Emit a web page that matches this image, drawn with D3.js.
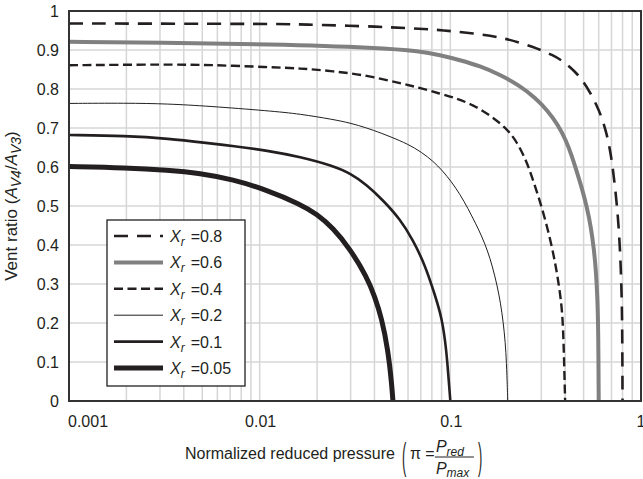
<!DOCTYPE html>
<html>
<head>
<meta charset="utf-8">
<script src="https://cdn.jsdelivr.net/npm/d3@7"></script>
<style>
body { margin: 0; background: #fff; }
text { font-family: "Liberation Sans", Arial, Helvetica, sans-serif; fill: #231f20; }
</style>
</head>
<body>
<svg id="chart" width="643" height="479"></svg>
<script>
// curves: [pi, vent ratio]
var curve08 = [[0.001,0.968],[0.011,0.967],[0.0163,0.966],[0.0428,0.96],[0.0782,0.953],[0.0882,0.951],[0.1318,0.943],[0.1973,0.93],[0.2721,0.908],[0.3464,0.887],[0.399,0.868],[0.45,0.845],[0.4958,0.821],[0.5395,0.792],[0.585,0.759],[0.6238,0.726],[0.6546,0.692],[0.6827,0.654],[0.7082,0.605],[0.7298,0.551],[0.7521,0.49],[0.7704,0.418],[0.7846,0.336],[0.7942,0.246],[0.7981,0.156],[0.8,0]];
var curve06 = [[0.001,0.921],[0.003,0.919],[0.0112,0.915],[0.0428,0.906],[0.0693,0.897],[0.0882,0.887],[0.1123,0.874],[0.1429,0.859],[0.182,0.837],[0.2317,0.808],[0.2777,0.778],[0.3249,0.744],[0.3665,0.708],[0.4039,0.669],[0.4342,0.628],[0.4611,0.587],[0.4898,0.546],[0.5203,0.497],[0.5461,0.446],[0.5662,0.39],[0.58,0.336],[0.5906,0.267],[0.5971,0.182],[0.6,0]];
var curve04 = [[0.001,0.861],[0.0033,0.863],[0.0054,0.862],[0.0112,0.856],[0.0163,0.853],[0.0242,0.846],[0.0365,0.835],[0.0544,0.815],[0.0693,0.803],[0.0882,0.788],[0.1079,0.776],[0.1318,0.759],[0.1613,0.733],[0.1973,0.699],[0.2232,0.665],[0.2512,0.614],[0.266,0.579],[0.295,0.514],[0.3329,0.421],[0.361,0.336],[0.3834,0.25],[0.3908,0.182],[0.3956,0.092],[0.4,0]];
var curve02 = [[0.001,0.763],[0.002,0.764],[0.0033,0.762],[0.0054,0.756],[0.0112,0.744],[0.0163,0.736],[0.0242,0.722],[0.0298,0.713],[0.0365,0.70],[0.0428,0.688],[0.0544,0.668],[0.0652,0.649],[0.0763,0.626],[0.0861,0.603],[0.096,0.577],[0.107,0.546],[0.1178,0.513],[0.1298,0.474],[0.1413,0.438],[0.1519,0.403],[0.1613,0.367],[0.1713,0.321],[0.1798,0.274],[0.1865,0.228],[0.1922,0.174],[0.1957,0.126],[0.1981,0.067],[0.2,0]];
var curve01 = [[0.001,0.682],[0.002,0.680],[0.0033,0.673],[0.0054,0.661],[0.0072,0.654],[0.011,0.642],[0.0163,0.626],[0.0242,0.603],[0.0298,0.584],[0.0365,0.554],[0.0443,0.515],[0.0544,0.467],[0.0637,0.413],[0.0736,0.349],[0.083,0.272],[0.0904,0.213],[0.0954,0.131],[0.0983,0.046],[0.1,0]];
var curve005 = [[0.001,0.601],[0.002,0.598],[0.0033,0.592],[0.00486,0.584],[0.00724,0.568],[0.0109,0.541],[0.0163,0.505],[0.02,0.479],[0.0242,0.444],[0.0298,0.39],[0.0365,0.318],[0.0402,0.267],[0.0436,0.213],[0.0471,0.131],[0.0492,0.046],[0.05,0]];

var xrLabels = ["0.8", "0.6", "0.4", "0.2", "0.1", "0.05"];
var xTickLabels = ["0.001", "0.01", "0.1", "1"];
var yTickLabels = ["0", "0.1", "0.2", "0.3", "0.4", "0.5", "0.6", "0.7", "0.8", "0.9", "1"];

var series = [
    {label: xrLabels[0], data: curve08, color: "#231f20", width: 2.6, dash: "14,9"},
    {label: xrLabels[1], data: curve06, color: "#808080", width: 4, dash: null},
    {label: xrLabels[2], data: curve04, color: "#231f20", width: 2.4, dash: "9,4.5"},
    {label: xrLabels[3], data: curve02, color: "#231f20", width: 1, dash: null},
    {label: xrLabels[4], data: curve01, color: "#231f20", width: 2.6, dash: null},
    {label: xrLabels[5], data: curve005, color: "#231f20", width: 5, dash: null}
];

var svg = d3.select("#chart"),
    pLeft = 69, pRight = 641, pTop = 11, pBottom = 401;

var x = d3.scaleLog().domain([0.001, 1]).range([pLeft, pRight]);
var y = d3.scaleLinear().domain([0, 1]).range([pBottom, pTop]);

// grid
var grid = svg.append("g").attr("stroke", "#d6d6d6").attr("stroke-width", 1.5);
grid.selectAll(".vx")
    .data(x.ticks())
    .enter().append("line")
    .attr("x1", function (d) { return x(d); })
    .attr("x2", function (d) { return x(d); })
    .attr("y1", pTop).attr("y2", pBottom);
grid.selectAll(".hy")
    .data(yTickLabels.map(Number))
    .enter().append("line")
    .attr("x1", pLeft).attr("x2", pRight)
    .attr("y1", function (d) { return y(d); })
    .attr("y2", function (d) { return y(d); });

svg.append("clipPath").attr("id", "plot")
    .append("rect")
    .attr("x", pLeft).attr("y", pTop)
    .attr("width", pRight - pLeft).attr("height", pBottom - pTop);

var line = d3.line()
    .x(function (d) { return x(d[0]); })
    .y(function (d) { return y(d[1]); })
    .curve(d3.curveBasis);

svg.append("g").attr("clip-path", "url(#plot)")
    .selectAll("path")
    .data(series)
    .enter().append("path")
    .attr("d", function (d) { return line(d.data); })
    .attr("fill", "none")
    .attr("stroke", function (d) { return d.color; })
    .attr("stroke-width", function (d) { return d.width; })
    .attr("stroke-dasharray", function (d) { return d.dash; });

// frame
svg.append("rect")
    .attr("x", pLeft).attr("y", pTop)
    .attr("width", pRight - pLeft).attr("height", pBottom - pTop)
    .attr("fill", "none").attr("stroke", "#333").attr("stroke-width", 2);

// y tick labels
svg.selectAll(".ylab")
    .data(yTickLabels)
    .enter().append("text")
    .attr("x", 59)
    .attr("y", function (d) { return y(+d); })
    .attr("dy", "0.35em")
    .attr("text-anchor", "end")
    .attr("font-size", 16)
    .text(function (d) { return d; });

// x tick labels (first one starts at the edge, last one sits on the edge)
svg.selectAll(".xlab")
    .data(xTickLabels)
    .enter().append("text")
    .attr("x", function (d, i) { return i === 0 ? x(+d) - 1 : x(+d) + (i < 3 ? 1 : 0); })
    .attr("y", 427)
    .attr("text-anchor", function (d, i) { return i === 0 ? "start" : "middle"; })
    .attr("font-size", 16)
    .text(function (d) { return d; });

// y axis title
var yt = svg.append("text")
    .attr("transform", "translate(17,206)rotate(-90)")
    .attr("text-anchor", "middle")
    .attr("font-size", 17);
yt.append("tspan").text("Vent ratio (");
yt.append("tspan").attr("font-style", "italic").text("A");
yt.append("tspan").attr("font-style", "italic").attr("font-size", 14).attr("dy", 4).text("V4");
yt.append("tspan").attr("dy", -4).text("/");
yt.append("tspan").attr("font-style", "italic").text("A");
yt.append("tspan").attr("font-style", "italic").attr("font-size", 14).attr("dy", 4).text("V3");
yt.append("tspan").attr("dy", -4).text(")");

// x axis title with the fraction
var xt = svg.append("text")
    .attr("x", 185).attr("y", 459)
    .attr("font-size", 16)
    .text("Normalized reduced pressure");
var fx = 185 + xt.node().getComputedTextLength();

svg.append("text")
    .attr("transform", "translate(" + (fx + 7) + ",469)scale(0.8,2.3)")
    .attr("font-size", 16)
    .text("(");
svg.append("text")
    .attr("x", fx + 15).attr("y", 459)
    .attr("font-size", 16)
    .text("\u03c0 =");

var num = svg.append("text").attr("x", fx + 41).attr("y", 452).attr("font-size", 16);
num.append("tspan").attr("font-style", "italic").text("P");
num.append("tspan").attr("font-style", "italic").attr("font-size", 12).attr("dy", 4).text("red");
var den = svg.append("text").attr("x", fx + 41).attr("y", 474).attr("font-size", 16);
den.append("tspan").attr("font-style", "italic").text("P");
den.append("tspan").attr("font-style", "italic").attr("font-size", 12).attr("dy", 3).text("max");
svg.append("line")
    .attr("x1", fx + 40).attr("x2", fx + 79)
    .attr("y1", 457).attr("y2", 457)
    .attr("stroke", "#231f20").attr("stroke-width", 1);
svg.append("text")
    .attr("transform", "translate(" + (fx + 83) + ",469)scale(0.8,2.3)")
    .attr("font-size", 16)
    .text(")");

// legend
var lg = svg.append("g");
lg.append("rect")
    .attr("x", 107).attr("y", 220)
    .attr("width", 138).attr("height", 166)
    .attr("fill", "#fff").attr("stroke", "#231f20").attr("stroke-width", 1.3);

var rows = lg.selectAll(".row")
    .data(series)
    .enter().append("g")
    .attr("transform", function (d, i) { return "translate(0," + (236 + i * 26.4) + ")"; });
rows.append("line")
    .attr("x1", 114).attr("x2", 163)
    .attr("stroke", function (d) { return d.color; })
    .attr("stroke-width", function (d) { return d.width; })
    .attr("stroke-dasharray", function (d) { return d.dash; });
var lt = rows.append("text")
    .attr("x", 170).attr("y", 6)
    .attr("font-size", 16);
lt.append("tspan").attr("font-style", "italic").text("X");
lt.append("tspan").attr("font-style", "italic").attr("font-size", 12).attr("dy", 4).text("r");
lt.append("tspan").attr("dx", 6).attr("dy", -4).text(function (d) { return "=" + d.label; });
</script>
</body>
</html>
